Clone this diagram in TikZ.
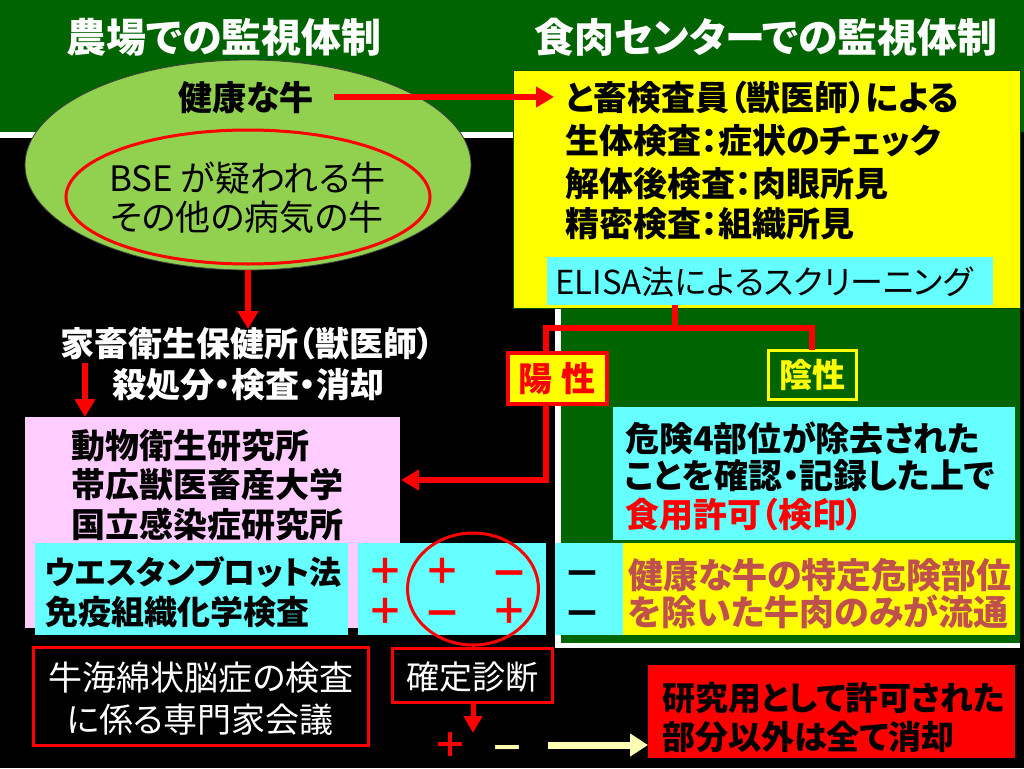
\documentclass[tikz,border=0pt]{standalone}
\usepackage{fontspec}
\setmainfont{Noto Sans CJK JP}[RawFeature=+palt]
\usetikzlibrary{arrows.meta,shapes.geometric,calc}
\definecolor{dgreen}{RGB}{0,100,0}
\definecolor{lgreen}{RGB}{146,208,80}
\definecolor{cyanbox}{RGB}{102,255,255}
\definecolor{pinkbox}{RGB}{255,204,255}
\definecolor{brownred}{RGB}{192,80,77}
\definecolor{paley}{RGB}{255,255,180}
\definecolor{ybox}{RGB}{255,255,0}
\newcommand\fsz[1]{\fontsize{#1}{#1}\selectfont}
\begin{document}
\begin{tikzpicture}[x=1pt,y=-1pt,
  t/.style={inner sep=0pt,anchor=west},
  tc/.style={inner sep=0pt,anchor=center},
  mn/.style={inner sep=0pt,anchor=center,yshift=-8pt},
  boxn/.style={rectangle,inner sep=0pt,outer sep=0pt},
  elln/.style={ellipse,inner sep=0pt,outer sep=0pt},
  rline/.style={draw=red,line width=6pt},
  rarrow/.style={draw=red,line width=6pt,-{Triangle[length=18pt,width=20pt]}},
  karrow/.style={draw=red,line width=5pt,-{Triangle[length=17pt,width=18pt]}},
  parrow/.style={draw=paley,line width=7pt,-{Triangle[length=18pt,width=22pt]}}]
\useasboundingbox (0,0) rectangle (1024,768);
% backgrounds
\fill[black] (0,0) rectangle (1024,768);
\fill[dgreen] (0,0) -- (1024,0) -- (1024,132) -- (1020,132) -- (1020,643) -- (561,643) -- (561,132) -- (0,132) -- cycle;
\fill[white] (0,132) rectangle (513,138);
\fill[white] (555,300) rectangle (561,648);
\fill[white] (555,643) rectangle (1020,648);
% titles
\node[tc,white] (titleL) at (224,37) {\fsz{40}\bfseries 農場での監視体制};
\node[tc,white] (titleR) at (766,37) {\fsz{40}\bfseries 食肉センターでの監視体制};
% ellipse
\node[elln,fill=lgreen,draw=black!75,line width=0.8pt,minimum width=446pt,minimum height=210pt] (ell) at (248,165) {};
\node[elln,draw=red,line width=3pt,minimum width=364pt,minimum height=134pt] (rell) at (248,197) {};
\node[tc] (healthy) at (246,98) {\fsz{34}\bfseries 健康な牛};
\node[tc] (bse1) at (247,178) {\fsz{35}BSE が疑われる牛};
\node[tc] (bse2) at (247,217) {\fsz{35}その他の病気の牛};
% yellow box
\node[boxn,fill=ybox,draw=black!70!green,line width=0.8pt,minimum width=507pt,minimum height=238pt] (yb) at (766.5,189) {};
\node[t] (y1) at (565,98) {\fsz{34}\bfseries と畜検査員（獣医師）による};
\node[t] (y2) at (565,141) {\fsz{34}\bfseries 生体検査：症状のチェック};
\node[t] (y3) at (565,184) {\fsz{34}\bfseries 解体後検査：肉眼所見};
\node[t] (y4) at (565,224) {\fsz{34}\bfseries 精密検査：組織所見};
\node[boxn,fill=cyanbox,minimum width=446pt,minimum height=48pt] (elisa) at (770,281) {};
\node[t] (elisat) at (555,282) {\fsz{33}ELISA法によるスクリーニング};
\draw[rarrow] ([xshift=20pt]healthy.east |- 0,97) -- ([xshift=-11pt]y1.west |- 0,97);
% positive / negative
\node[boxn,fill=ybox,draw=red,line width=4pt,minimum width=99pt,minimum height=51pt] (yosei) at (557.5,378.5) {};
\node[tc,red] (yoseit) at (557,379) {\fsz{34}\bfseries 陽\hspace{9pt}性};
\node[boxn,fill=dgreen,draw=ybox,line width=3pt,minimum width=88pt,minimum height=49pt] (insei) at (812,374.5) {};
\node[tc,ybox] (inseit) at (812,375) {\fsz{33}\bfseries 陰性};
\coordinate (br) at (675,328);
\draw[rline] (elisa.south -| br) -- (br);
\draw[rline,line join=miter] ([xshift=-12pt]yosei.north) |- (br) -| (insei.north);
% farm side
\draw[rarrow] (ell.south) -- ([yshift=-3pt]248,326);
\node[tc,white] (ka1) at (247,344) {\fsz{34}\bfseries 家畜衛生保健所（獣医師）};
\node[tc,white] (ka2) at (248,385) {\fsz{34}\bfseries 殺処分・検査・消却};
\node[boxn,fill=pinkbox,minimum width=375pt,minimum height=211pt] (pink) at (212.5,522.5) {};
\coordinate (pinktop) at (85,417);
\coordinate (pinkin) at (401,480);
\draw[rarrow] ([yshift=-2pt]ka1.south -| pinktop) -- (pinktop);
\draw[rarrow,line join=miter] ([xshift=-12pt]yosei.south) |- (pinkin);
\node[t] (p1) at (71,446) {\fsz{34}\bfseries 動物衛生研究所};
\node[t] (p2) at (71,485) {\fsz{34}\bfseries 帯広獣医畜産大学};
\node[t] (p3) at (71,525) {\fsz{34}\bfseries 国立感染症研究所};
% test row
\node[boxn,fill=cyanbox,minimum width=313pt,minimum height=92pt] (wb) at (191.5,589) {};
\node[t] (wb1) at (45,572) {\fsz{32}\bfseries ウエスタンブロット法};
\node[t] (wb2) at (45,612) {\fsz{33}\bfseries 免疫組織化学検査};
\node[boxn,fill=cyanbox,minimum width=188pt,minimum height=92pt] (pm) at (452,589) {};
\node[tc,red] (s11) at (385,571) {\fsz{36}\bfseries ＋};
\node[tc,red] (s12) at (442,571) {\fsz{36}\bfseries ＋};
\node[mn,red] (s13) at (509,571) {\fsz{38}\bfseries －};
\node[tc,red] (s21) at (385,611) {\fsz{36}\bfseries ＋};
\node[mn,red] (s22) at (442,611) {\fsz{38}\bfseries －};
\node[tc,red] (s23) at (509,611) {\fsz{36}\bfseries ＋};
\node[elln,draw=red,line width=3pt,minimum width=131pt,minimum height=112pt] (circ) at (473,589) {};
\node[boxn,fill=cyanbox,minimum width=68pt,minimum height=92pt] (neg) at (589,589) {};
\node[mn] (n1) at (582,571) {\fsz{38}\bfseries －};
\node[mn] (n2) at (582,611) {\fsz{38}\bfseries －};
\node[boxn,fill=ybox,minimum width=392pt,minimum height=92pt] (dist) at (819,589) {};
\node[t,brownred] (d1) at (628,575) {\fsz{35}\bfseries 健康な牛の特定危険部位};
\node[t,brownred] (d2) at (628,612) {\fsz{35}\bfseries を除いた牛肉のみが流通};
% approval box
\node[boxn,fill=cyanbox,minimum width=402pt,minimum height=133pt] (appr) at (814,473.5) {};
\node[t] (a1) at (625,438) {\fsz{34}\bfseries 危険4部位が除去された};
\node[t] (a2) at (625,476) {\fsz{34}\bfseries ことを確認・記録した上で};
\node[t,red] (a3) at (625,515) {\fsz{34}\bfseries 食用許可（検印）};
% bottom
\node[boxn,fill=black,draw=red,line width=3pt,minimum width=335pt,minimum height=98pt] (expert) at (200.5,696) {};
\node[tc,white] (e1) at (201,678) {\fsz{34}牛海綿状脳症の検査};
\node[tc,white] (e2) at (200,720) {\fsz{34}に係る専門家会議};
\node[boxn,fill=black,draw=red,line width=3pt,minimum width=160pt,minimum height=54pt] (kakutei) at (472,675) {};
\node[tc,white] (kt) at (472,677) {\fsz{33}確定診断};
\draw[draw=red,line width=3pt] (circ.south) -- (kakutei.north -| circ.south);
\coordinate (ktip) at (473,733);
\draw[karrow] (kakutei.south -| circ.south) -- (ktip);
\node[boxn,fill=red,minimum width=367pt,minimum height=93pt] (rbox) at (831.5,711.5) {};
\node[t] (r1) at (662,698) {\fsz{33}\bfseries 研究用として許可された};
\node[t] (r2) at (662,737) {\fsz{33}\bfseries 部分以外は全て消却};
\node[tc,red] (plusB) at (450,745) {\fsz{34}\bfseries ＋};
\node[mn,paley] (minusB) at (507,745) {\fsz{34}\bfseries －};
\draw[parrow] ([xshift=24pt]minusB.east |- plusB) -- (rbox.west |- plusB);
\end{tikzpicture}
\end{document}
